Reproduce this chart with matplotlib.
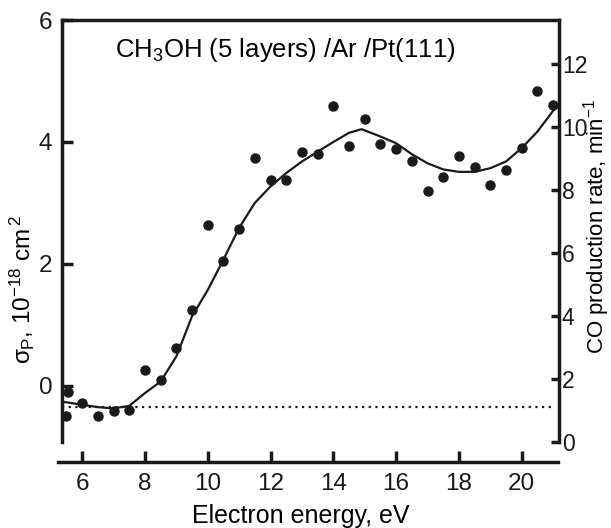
import matplotlib
matplotlib.use('Agg')
import matplotlib.pyplot as plt

plt.rcParams['font.family'] = ['Liberation Sans', 'DejaVu Sans']
plt.rcParams['mathtext.fontset'] = 'custom'
plt.rcParams['mathtext.rm'] = 'Liberation Sans'
plt.rcParams['mathtext.it'] = 'Liberation Sans'
plt.rcParams['mathtext.sf'] = 'Liberation Sans'

# measured cross sections (dots)
energy = [5.5, 5.56, 6.0, 6.5, 7.0, 7.5, 8.0, 8.5, 9.0, 9.5, 10.0, 10.5, 11.0,
          11.5, 12.0, 12.5, 13.0, 13.5, 14.0, 14.5, 15.0, 15.5, 16.0, 16.5,
          17.0, 17.5, 18.0, 18.5, 19.0, 19.5, 20.0, 20.5, 21.0]
sigma = [-0.49, -0.10, -0.28, -0.50, -0.41, -0.40, 0.26, 0.09, 0.62, 1.25,
         2.64, 2.05, 2.58, 3.73, 3.37, 3.38, 3.84, 3.80, 4.59, 3.93, 4.37,
         3.96, 3.89, 3.69, 3.20, 3.42, 3.77, 3.59, 3.30, 3.54, 3.90, 4.84, 4.60]

# smooth fit curve
fitE = [5.36, 6.0, 6.5, 7.0, 7.5, 8.0, 8.5, 9.0, 9.5, 10.0, 10.5, 11.0, 11.5,
        12.0, 12.5, 13.0, 13.5, 14.0, 14.5, 14.9, 15.5, 16.0, 16.5, 17.0,
        17.5, 18.0, 18.5, 19.0, 19.5, 20.0, 20.5, 21.1]
fitS = [-0.26, -0.31, -0.35, -0.37, -0.33, -0.12, 0.07, 0.48, 1.14, 1.57,
        2.07, 2.59, 3.0, 3.27, 3.49, 3.68, 3.84, 4.0, 4.15, 4.21, 4.09, 3.98,
        3.80, 3.65, 3.55, 3.51, 3.51, 3.57, 3.68, 3.90, 4.17, 4.58]

baseline = -0.34

fig = plt.figure(figsize=(6.11, 5.28), dpi=100)
ax = fig.add_axes([0.1015, 0.125, 0.8135, 0.837])

ax.plot(energy, sigma, 'o', color='#1a1a1a', markersize=6.5, zorder=3)
ax.plot(fitE, fitS, '-', color='#1a1a1a', lw=1.6)
ax.plot([5.36, 20.95], [baseline, baseline], color='#1a1a1a', lw=1.6,
        linestyle=(0, (1, 2)))

ax.set_xlim(5.36, 21.19)
ax.set_ylim(-1.25, 6.0)
ax.set_xticks([6, 8, 10, 12, 14, 16, 18, 20])
ax.set_yticks([0, 2, 4, 6])

for s in ['left', 'bottom', 'top']:
    ax.spines[s].set_linewidth(2.5)
    ax.spines[s].set_color('#1a1a1a')
ax.spines['right'].set_visible(False)
ax.spines['left'].set_bounds(-0.93, 6.0)
ax.spines['bottom'].set_bounds(5.24, 21.16)

ax.tick_params(axis='y', direction='in', length=8, width=2.5, pad=7,
               labelsize=17.5, colors='#1a1a1a')
ax.tick_params(axis='x', direction='in', length=8, width=2.5, pad=8,
               labelsize=17.5, colors='#1a1a1a')

ax.set_xlabel('Electron energy, eV', fontsize=18)
ax.xaxis.set_label_coords(0.481, -0.095)
ax.set_ylabel(r'$\sigma_{\mathrm{P}}$, 10$^{-18}$ cm$^{\,2}$', fontsize=17.5)
ax.yaxis.set_label_coords(-0.05, 0.39)

ax.text(0.449, 0.932, r'CH$_3$OH (5 layers) /Ar /Pt(111)', transform=ax.transAxes,
        ha='center', va='center', fontsize=18.5)

ax2 = ax.twinx()
ax2.set_ylim(-0.63, 13.4)
ax2.set_yticks([0, 2, 4, 6, 8, 10, 12])
for s in ['left', 'bottom', 'top']:
    ax2.spines[s].set_visible(False)
ax2.spines['right'].set_linewidth(2.5)
ax2.spines['right'].set_color('#1a1a1a')
ax2.spines['right'].set_bounds(0, 13.4)
ax2.tick_params(axis='y', direction='in', length=6, width=2.5, pad=2,
                labelsize=16.5, colors='#1a1a1a')
ax2.set_ylabel(r'CO production rate, min$^{-1}$', fontsize=16)
ax2.yaxis.set_label_coords(1.044, 0.534)

fig.savefig('out.png', dpi=100)
